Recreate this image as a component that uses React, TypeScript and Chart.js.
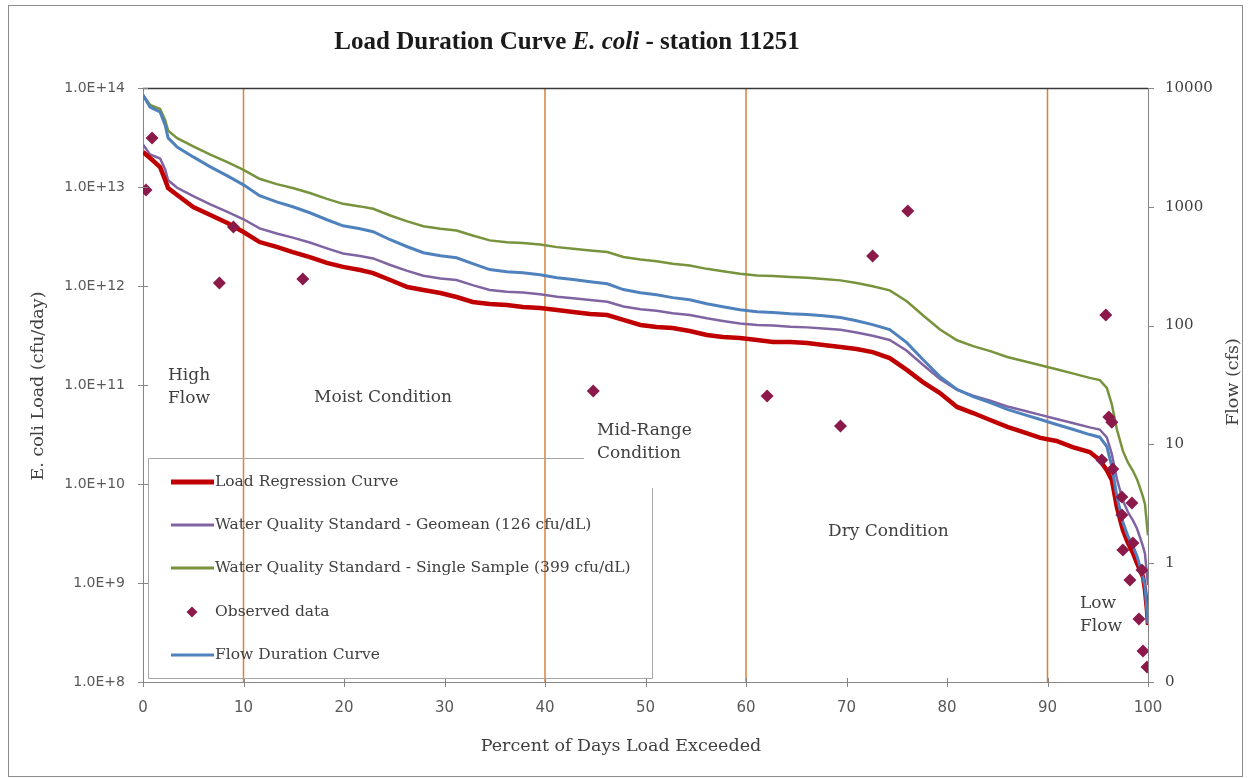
import React, { useEffect, useRef } from 'react';
import { Chart, registerables } from 'chart.js';

Chart.register(...registerables);

// ---- Data ----
const PCT = [0, 0.7, 1.7, 2.2, 2.5, 3.4, 5.0, 6.7, 8.4, 10.0, 11.6, 13.3, 14.9, 16.6, 18.3, 19.9, 21.6, 22.9, 24.6, 26.3, 27.9, 29.6, 31.2, 32.8, 34.5, 36.2, 37.8, 39.5, 41.2, 42.8, 44.5, 46.2, 47.8, 49.5, 51.1, 52.7, 54.4, 56.1, 57.7, 59.4, 61.1, 62.7, 64.4, 66.1, 67.7, 69.4, 71.0, 72.6, 74.3, 76.0, 77.6, 79.3, 81.0, 82.6, 84.3, 86.0, 87.6, 89.3, 90.9, 92.5, 94.2, 95.2, 95.9, 96.4, 96.9, 97.5, 98.0, 98.5, 98.9, 99.2, 99.5, 99.7, 99.9, 100];

const FLOW_CFS = [8730, 6920, 6280, 4890, 3800, 3190, 2630, 2170, 1820, 1530, 1240, 1100, 1000, 891, 778, 692, 653, 617, 528, 461, 411, 387, 372, 332, 296, 284, 279, 268, 253, 244, 234, 225, 201, 189, 182, 172, 165, 153, 144, 136, 131, 129, 126, 124, 121, 117, 110, 102, 92.5, 71.9, 51.8, 37.2, 29.0, 25.3, 22.5, 19.7, 17.9, 16.2, 14.7, 13.4, 12.1, 11.5, 9.6, 6.53, 3.66, 2.21, 1.69, 1.39, 1.15, 0.94, 0.76, 0.64, 0.39, 0.31];

const LOAD_REGRESSION = [2.26e13, 1.96e13, 1.59e13, 1.18e13, 9.77e12, 8.30e12, 6.28e12, 5.21e12, 4.33e12, 3.51e12, 2.78e12, 2.48e12, 2.20e12, 1.96e12, 1.71e12, 1.56e12, 1.45e12, 1.35e12, 1.15e12, 9.77e11, 9.12e11, 8.50e11, 7.74e11, 6.89e11, 6.58e11, 6.43e11, 6.14e11, 6.00e11, 5.73e11, 5.46e11, 5.21e11, 5.09e11, 4.54e11, 4.04e11, 3.86e11, 3.77e11, 3.51e11, 3.20e11, 3.05e11, 2.99e11, 2.85e11, 2.72e11, 2.72e11, 2.66e11, 2.54e11, 2.42e11, 2.31e11, 2.15e11, 1.87e11, 1.42e11, 1.07e11, 8.30e10, 6.00e10, 5.21e10, 4.43e10, 3.77e10, 3.35e10, 2.92e10, 2.72e10, 2.36e10, 2.10e10, 1.75e10, 1.38e10, 1.10e10, 5.86e9, 3.43e9, 2.54e9, 2.01e9, 1.59e9, 1.35e9, 1.15e9, 8.50e8, 5.33e8, 3.77e8];

const GEOMEAN_STD = [2.69e13, 2.13e13, 1.94e13, 1.51e13, 1.17e13, 9.83e12, 8.11e12, 6.69e12, 5.61e12, 4.72e12, 3.82e12, 3.39e12, 3.08e12, 2.75e12, 2.40e12, 2.13e12, 2.01e12, 1.90e12, 1.63e12, 1.42e12, 1.27e12, 1.19e12, 1.15e12, 1.02e12, 9.13e11, 8.76e11, 8.60e11, 8.26e11, 7.80e11, 7.52e11, 7.21e11, 6.94e11, 6.20e11, 5.83e11, 5.61e11, 5.30e11, 5.09e11, 4.72e11, 4.44e11, 4.19e11, 4.04e11, 3.98e11, 3.88e11, 3.82e11, 3.73e11, 3.61e11, 3.39e11, 3.14e11, 2.85e11, 2.22e11, 1.60e11, 1.15e11, 8.94e10, 7.80e10, 6.94e10, 6.07e10, 5.52e10, 4.99e10, 4.53e10, 4.13e10, 3.73e10, 3.55e10, 2.96e10, 2.01e10, 1.13e10, 6.81e9, 5.21e9, 4.29e9, 3.55e9, 2.90e9, 2.34e9, 1.97e9, 1.20e9, 9.56e8];

const SINGLE_SAMPLE_STD = [8.52e13, 6.76e13, 6.13e13, 4.77e13, 3.71e13, 3.11e13, 2.57e13, 2.12e13, 1.78e13, 1.49e13, 1.21e13, 1.07e13, 9.76e12, 8.70e12, 7.59e12, 6.76e12, 6.37e12, 6.02e12, 5.15e12, 4.50e12, 4.01e12, 3.78e12, 3.63e12, 3.24e12, 2.89e12, 2.77e12, 2.72e12, 2.62e12, 2.47e12, 2.38e12, 2.28e12, 2.20e12, 1.96e12, 1.85e12, 1.78e12, 1.68e12, 1.61e12, 1.49e12, 1.41e12, 1.33e12, 1.28e12, 1.26e12, 1.23e12, 1.21e12, 1.18e12, 1.14e12, 1.07e12, 9.96e11, 9.03e11, 7.02e11, 5.06e11, 3.63e11, 2.83e11, 2.47e11, 2.20e11, 1.92e11, 1.75e11, 1.58e11, 1.44e11, 1.31e11, 1.18e11, 1.12e11, 9.37e10, 6.37e10, 3.57e10, 2.16e10, 1.65e10, 1.36e10, 1.12e10, 9.18e9, 7.42e9, 6.25e9, 3.81e9, 3.03e9];

const OBS_PCT = [0.3, 0.9, 7.6, 9.0, 15.9, 44.8, 62.1, 69.4, 72.6, 76.1, 95.4, 95.8, 96.1, 96.4, 96.5, 97.4, 97.4, 97.5, 98.2, 98.4, 98.5, 99.1, 99.4, 99.5, 99.9];
const OBS_LOAD = [9.33e12, 3.12e13, 1.07e12, 3.94e12, 1.18e12, 8.69e10, 7.74e10, 3.86e10, 2.01e12, 5.73e12, 1.75e10, 5.09e11, 4.75e10, 4.2e10, 1.42e10, 7.39e9, 4.86e9, 2.15e9, 1.07e9, 6.43e9, 2.54e9, 4.33e8, 1.35e9, 2.06e8, 1.42e8];

const ZONE_BOUNDS = [10, 40, 60, 90];
const X_TICKS = [0, 10, 20, 30, 40, 50, 60, 70, 80, 90, 100];
const LOAD_TICKS = [1e8, 1e9, 1e10, 1e11, 1e12, 1e13, 1e14];
const FLOW_TICKS = [0.1, 1, 10, 100, 1000, 10000];

const SERIES_NAMES = [
  'Load Regression Curve',
  'Water Quality Standard - Geomean (126 cfu/dL)',
  'Water Quality Standard - Single Sample (399 cfu/dL)',
  'Observed data',
  'Flow Duration Curve',
];

const ZONE_LABELS = [
  { lines: ['High', 'Flow'], x: 168, y: 376 },
  { lines: ['Moist Condition'], x: 314, y: 398 },
  { lines: ['Mid-Range', 'Condition'], x: 597, y: 431 },
  { lines: ['Dry Condition'], x: 828, y: 532 },
  { lines: ['Low', 'Flow'], x: 1080, y: 604 },
];

// ---- Styles ----
const RED = '#C00000';
const PURPLE = '#8064A2';
const GREEN = '#77933C';
const BLUE = '#4F81BD';
const ORANGE = '#D9823B';
const DIAMOND = '#8B1A4A';
const TEXT = '#404040';
const TICK = '#595959';
const AXIS = '#868686';
const SERIF = '"DejaVu Serif", "Liberation Serif", serif';
const SANS = '"DejaVu Sans", "Liberation Sans", sans-serif';
const TITLE_FONT = '"Liberation Serif", serif';

const xy = (xs: number[], ys: number[]) => xs.map((x, i) => ({ x, y: ys[i] }));

const decorPlugin = {
  id: 'ldcDecor',
  beforeDraw(chart: any) {
    const ctx = chart.ctx;
    ctx.save();
    ctx.fillStyle = '#ffffff';
    ctx.fillRect(0, 0, chart.width, chart.height);
    ctx.restore();
  },
  afterDraw(chart: any) {
    const ctx = chart.ctx;
    const { left, right, top, bottom } = chart.chartArea;
    const sx = chart.scales.x;
    const sy = chart.scales.y;
    const sy1 = chart.scales.y1;
    ctx.save();

    // outer frame
    ctx.strokeStyle = '#8c8c8c';
    ctx.lineWidth = 1;
    ctx.strokeRect(8.5, 5.5, 1234, 771);

    // top border of plot
    ctx.strokeStyle = '#3a3a3a';
    ctx.lineWidth = 1.5;
    ctx.beginPath();
    ctx.moveTo(left, top + 0.5);
    ctx.lineTo(right, top + 0.5);
    ctx.stroke();

    // tick marks
    ctx.strokeStyle = AXIS;
    ctx.lineWidth = 1;
    ctx.beginPath();
    LOAD_TICKS.forEach((v) => {
      const y = Math.round(sy.getPixelForValue(v)) + 0.5;
      ctx.moveTo(left - 5, y);
      ctx.lineTo(left + 5, y);
    });
    X_TICKS.forEach((v) => {
      const x = Math.round(sx.getPixelForValue(v)) + 0.5;
      ctx.moveTo(x, bottom - 4);
      ctx.lineTo(x, bottom + 5);
    });
    FLOW_TICKS.forEach((v) => {
      const y = Math.round(sy1.getPixelForValue(v)) + 0.5;
      ctx.moveTo(right, y);
      ctx.lineTo(right + 6, y);
    });
    ctx.stroke();

    // title
    ctx.fillStyle = '#1a1a1a';
    ctx.textBaseline = 'middle';
    const parts = [
      { t: 'Load Duration Curve ', f: `bold 25px ${TITLE_FONT}` },
      { t: 'E. coli', f: `italic bold 25px ${TITLE_FONT}` },
      { t: ' - station 11251', f: `bold 25px ${TITLE_FONT}` },
    ];
    let total = 0;
    parts.forEach((p) => { ctx.font = p.f; total += ctx.measureText(p.t).width; });
    let tx = 567 - total / 2;
    ctx.textAlign = 'left';
    parts.forEach((p) => { ctx.font = p.f; ctx.fillText(p.t, tx, 43); tx += ctx.measureText(p.t).width; });

    // axis titles
    ctx.fillStyle = TEXT;
    ctx.textAlign = 'center';
    ctx.font = `17.5px ${SERIF}`;
    ctx.fillText('Percent of Days Load Exceeded', 621, 746);
    ctx.save();
    ctx.translate(38, 386);
    ctx.rotate(-Math.PI / 2);
    ctx.fillText('E. coli Load (cfu/day)', 0, 0);
    ctx.restore();
    ctx.save();
    ctx.translate(1233, 382);
    ctx.rotate(-Math.PI / 2);
    ctx.fillText('Flow (cfs)', 0, 0);
    ctx.restore();

    // zone labels
    ctx.font = `17px ${SERIF}`;
    ctx.textAlign = 'left';
    ZONE_LABELS.forEach((z) => {
      z.lines.forEach((ln, i) => ctx.fillText(ln, z.x, z.y + i * 23));
    });

    // legend box
    ctx.strokeStyle = '#a6a6a6';
    ctx.lineWidth = 1;
    ctx.beginPath();
    ctx.moveTo(148.5, 458.5); ctx.lineTo(584, 458.5);
    ctx.moveTo(148.5, 458.5); ctx.lineTo(148.5, 678.5);
    ctx.moveTo(148.5, 678.5); ctx.lineTo(652.5, 678.5);
    ctx.moveTo(652.5, 488); ctx.lineTo(652.5, 678.5);
    ctx.stroke();

    const legendY = [482, 525, 568, 612, 655];
    const legendStyle = [
      { c: RED, w: 5, line: true },
      { c: PURPLE, w: 3, line: true },
      { c: GREEN, w: 3, line: true },
      { c: DIAMOND, w: 0, line: false },
      { c: BLUE, w: 3, line: true },
    ];
    ctx.font = `15.5px ${SERIF}`;
    SERIES_NAMES.forEach((name, i) => {
      const y = legendY[i];
      const st = legendStyle[i];
      if (st.line) {
        ctx.strokeStyle = st.c;
        ctx.lineWidth = st.w;
        ctx.beginPath();
        ctx.moveTo(171, y);
        ctx.lineTo(214, y);
        ctx.stroke();
      } else {
        ctx.fillStyle = st.c;
        ctx.beginPath();
        ctx.moveTo(192, y - 5.5);
        ctx.lineTo(197.5, y);
        ctx.lineTo(192, y + 5.5);
        ctx.lineTo(186.5, y);
        ctx.closePath();
        ctx.fill();
      }
      ctx.fillStyle = TEXT;
      ctx.fillText(name, 215, y);
    });

    ctx.restore();
  },
};

export default function App() {
  const ref = useRef<HTMLCanvasElement | null>(null);

  useEffect(() => {
    document.body.style.margin = '0';
    const canvas = ref.current;
    if (!canvas) return;

    const zoneSets = ZONE_BOUNDS.map((b) => ({
      label: 'zone ' + b,
      data: [{ x: b, y: LOAD_TICKS[0] }, { x: b, y: LOAD_TICKS[LOAD_TICKS.length - 1] }],
      showLine: true,
      borderColor: ORANGE,
      borderWidth: 1.5,
      pointRadius: 0,
      yAxisID: 'y',
      order: 10,
    }));

    const chart = new Chart(canvas, {
      type: 'scatter',
      data: {
        datasets: [
          ...zoneSets,
          {
            label: SERIES_NAMES[2],
            data: xy(PCT, SINGLE_SAMPLE_STD),
            showLine: true,
            borderColor: GREEN,
            borderWidth: 2.5,
            pointRadius: 0,
            yAxisID: 'y',
            order: 5,
          },
          {
            label: SERIES_NAMES[1],
            data: xy(PCT, GEOMEAN_STD),
            showLine: true,
            borderColor: PURPLE,
            borderWidth: 2.5,
            pointRadius: 0,
            yAxisID: 'y',
            order: 4,
          },
          {
            label: SERIES_NAMES[0],
            data: xy(PCT, LOAD_REGRESSION),
            showLine: true,
            borderColor: RED,
            borderWidth: 4.5,
            pointRadius: 0,
            yAxisID: 'y',
            order: 3,
          },
          {
            label: SERIES_NAMES[4],
            data: xy(PCT, FLOW_CFS),
            showLine: true,
            borderColor: BLUE,
            borderWidth: 3,
            pointRadius: 0,
            yAxisID: 'y1',
            order: 2,
          },
          {
            label: SERIES_NAMES[3],
            data: xy(OBS_PCT, OBS_LOAD),
            showLine: false,
            pointStyle: 'rectRot',
            pointRadius: 6.5,
            pointBackgroundColor: DIAMOND,
            pointBorderColor: DIAMOND,
            pointBorderWidth: 0,
            yAxisID: 'y',
            order: 1,
          },
        ],
      } as any,
      options: {
        responsive: false,
        animation: false,
        devicePixelRatio: 1,
        layout: { padding: { top: 88, left: 0, right: 0, bottom: 0 } },
        plugins: {
          legend: { display: false },
          tooltip: { enabled: false },
          title: { display: false },
        },
        elements: { line: { tension: 0 } },
        scales: {
          x: {
            type: 'linear',
            min: 0,
            max: 100,
            afterFit: (s: any) => { s.height = 96; },
            afterBuildTicks: (s: any) => { s.ticks = X_TICKS.map((v) => ({ value: v })); },
            grid: { display: false, drawTicks: false },
            border: { display: true, color: AXIS, width: 1 },
            ticks: {
              autoSkip: false,
              maxRotation: 0,
              padding: 17,
              color: TICK,
              font: { family: SANS, size: 15 },
            },
          },
          y: {
            type: 'logarithmic',
            position: 'left',
            min: LOAD_TICKS[0],
            max: LOAD_TICKS[LOAD_TICKS.length - 1],
            afterFit: (s: any) => { s.width = 143; },
            afterBuildTicks: (s: any) => { s.ticks = LOAD_TICKS.map((v) => ({ value: v })); },
            grid: { display: false, drawTicks: false },
            border: { display: true, color: AXIS, width: 1 },
            ticks: {
              autoSkip: false,
              padding: 18,
              color: TICK,
              font: { family: SANS, size: 14 },
              callback: (v: any) => Number(v).toExponential(1).toUpperCase(),
            },
          },
          y1: {
            type: 'logarithmic',
            position: 'right',
            min: FLOW_TICKS[0],
            max: FLOW_TICKS[FLOW_TICKS.length - 1],
            afterFit: (s: any) => { s.width = 102; },
            afterBuildTicks: (s: any) => { s.ticks = FLOW_TICKS.map((v) => ({ value: v })); },
            grid: { display: false, drawTicks: false },
            border: { display: true, color: AXIS, width: 1 },
            ticks: {
              autoSkip: false,
              padding: 17,
              color: TEXT,
              font: { family: SERIF, size: 15 },
              callback: (v: any) => String(Math.round(Number(v))),
            },
          },
        },
      } as any,
      plugins: [decorPlugin],
    });

    return () => chart.destroy();
  }, []);

  return (
    <div style={{ width: 1250, height: 778, position: 'relative' }}>
      <canvas ref={ref} width={1250} height={778} style={{ display: 'block', width: 1250, height: 778 }} />
    </div>
  );
}
